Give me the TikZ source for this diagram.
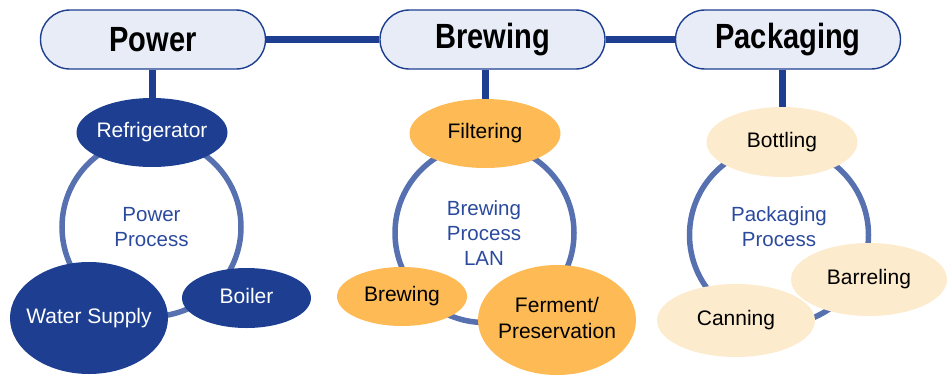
\documentclass[tikz,border=0pt]{standalone}
\usepackage{fontspec}
\usepackage{graphicx}
\setmainfont{Liberation Sans}
\usetikzlibrary{shapes.geometric}
\definecolor{navy}{HTML}{1E3F91}
\definecolor{ringc}{HTML}{5670B0}
\definecolor{boxfill}{HTML}{E7ECF6}
\definecolor{orng}{HTML}{FDBA55}
\definecolor{peach}{HTML}{FDEBCD}
\definecolor{proctext}{HTML}{2B4A9E}
\tikzset{
  headbox/.style={draw=navy, line width=1.4pt, fill=boxfill, rectangle, rounded corners=29.5pt,
    minimum width=225pt, minimum height=59pt, inner sep=0pt,
    font=\fontsize{35}{40}\selectfont\bfseries},
  bus/.style={draw=navy, line width=7pt},
  ring/.style={circle, draw=ringc, line width=5.5pt, minimum size=179pt, inner sep=0pt},
  ringtext/.style={align=center, text=proctext, inner sep=0pt, font=\fontsize{20.5}{25}\selectfont},
  blob/.style={ellipse, inner sep=0pt, font=\fontsize{21}{26}\selectfont},
  darkblob/.style={blob, fill=navy, text=white},
  orangeblob/.style={blob, fill=orng, text=black},
  peachblob/.style={blob, fill=peach, text=black},
}
\newcommand{\hd}[1]{\scalebox{0.83}[1]{#1}}
\newcommand{\zw}[1]{\makebox[0pt]{\begin{tabular}{@{}c@{}}#1\end{tabular}}}
\begin{document}
\begin{tikzpicture}[x=1pt,y=-1pt]
\useasboundingbox (0,0) rectangle (948,375);
% header boxes
\node[headbox] (pow) at (153,39.5) {\hd{Power}};
\node[headbox] (brw) at (492.5,39.5) {\hd{Brewing}};
\node[headbox] (pkg) at (788,39.5) {\hd{Packaging}};
% bus connectors
\draw[bus] (pow.east) -- (brw.west);
\draw[bus] (brw.east) -- (pkg.west);
% rings
\node[ring] (pr) at (151.5,227) {};
\node[ring] (br) at (484.5,233) {};
\node[ring] (kr) at (779,235) {};
\node[ringtext] (prt) at (151.5,227) {Power\\Process};
\node[ringtext] (brt) at (484,233) {Brewing\\Process\\LAN};
\node[ringtext] (krt) at (779,227) {Packaging\\Process};
% ellipses
\node[darkblob, minimum width=151pt, minimum height=69pt] (refr) at (152,132.5) {\zw{Refrigerator}};
\node[darkblob, minimum width=129pt, minimum height=60pt] (boil) at (246.5,298) {\zw{Boiler}};
\node[darkblob, minimum width=158pt, minimum height=112pt] (water) at (89,318) {\zw{Water Supply}};
\node[orangeblob, minimum width=151pt, minimum height=69pt] (filt) at (485,133.5) {\zw{Filtering}};
\node[orangeblob, minimum width=130pt, minimum height=59pt] (brewing) at (402,296.5) {\zw{Brewing}};
\node[orangeblob, minimum width=158pt, minimum height=110pt] (ferm) at (557,320) {\zw{Ferment/\\Preservation}};
\node[peachblob, minimum width=151pt, minimum height=70pt] (bott) at (782,142) {\zw{Bottling}};
\node[peachblob, minimum width=158pt, minimum height=73pt] (cann) at (736,320.5) {\zw{Canning}};
\node[peachblob, minimum width=156pt, minimum height=73pt] (barr) at (869,279.5) {\zw{Barreling}};
% vertical connectors
\draw[bus] (refr.north) -- (refr.north |- pow.south);
\draw[bus] (filt.north) -- (filt.north |- brw.south);
\draw[bus] (bott.north) -- (bott.north |- pkg.south);
\end{tikzpicture}
\end{document}
